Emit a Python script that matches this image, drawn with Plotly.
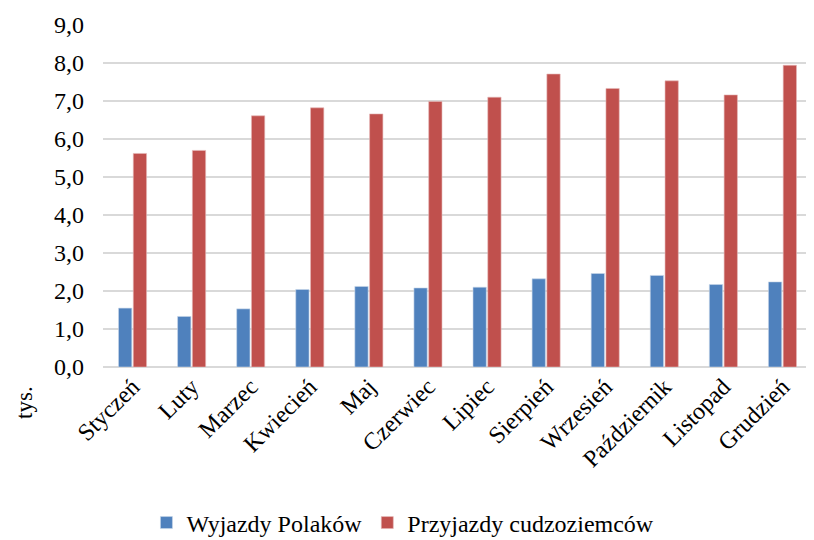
import plotly.graph_objects as go

months = ['Styczeń', 'Luty', 'Marzec', 'Kwiecień', 'Maj', 'Czerwiec', 'Lipiec',
          'Sierpień', 'Wrzesień', 'Październik', 'Listopad', 'Grudzień']
wyjazdy_polakow = [1.55, 1.33, 1.53, 2.04, 2.12, 2.08, 2.10, 2.32, 2.46, 2.41, 2.17, 2.24]
przyjazdy_cudzoziemcow = [5.62, 5.70, 6.61, 6.82, 6.66, 6.99, 7.10, 7.71, 7.33, 7.53, 7.16, 7.94]

font_family = 'Liberation Serif, Times New Roman, serif'

fig = go.Figure()

fig.add_trace(go.Bar(
    x=months,
    y=wyjazdy_polakow,
    name='Wyjazdy Polaków',
    marker=dict(color='#4F81BD', line=dict(color='#c9d6ea', width=0.6))
))
fig.add_trace(go.Bar(
    x=months,
    y=przyjazdy_cudzoziemcow,
    name='Przyjazdy cudzoziemców',
    marker=dict(color='#C0504D', line=dict(color='#e6b9b8', width=0.6))
))

# page body has an 8px margin, so the figure is 8px smaller and shifted
fig.update_layout(
    width=806, height=532,
    barmode='group',
    bargap=0.5,
    bargroupgap=0.1,
    separators=', ',
    plot_bgcolor='white',
    paper_bgcolor='white',
    font=dict(family=font_family, size=24, color='black'),
    margin=dict(l=95, r=2, t=17, b=173, autoexpand=False),
    legend=dict(
        orientation='h',
        xref='container', yref='container',
        x=0.49, xanchor='center',
        y=0.032, yanchor='middle',
        font=dict(size=24),
        itemwidth=30,
        traceorder='normal',
    ),
    annotations=[dict(
        text='tys.', xref='paper', yref='paper',
        x=-0.11, y=-0.105, showarrow=False, textangle=-90,
        font=dict(size=23), xanchor='center', yanchor='middle'
    )],
)

fig.update_yaxes(
    range=[0, 9],
    dtick=1,
    tickformat='.1f',
    showgrid=True,
    gridcolor='#d9d9d9',
    gridwidth=1.5,
    zeroline=True,
    zerolinecolor='#d9d9d9',
    zerolinewidth=1.5,
    ticklabelstandoff=18,
    tickfont=dict(size=24),
    automargin=False,
)
fig.update_xaxes(
    tickangle=-45,
    showline=False,
    tickfont=dict(size=24),
    automargin=False,
)

fig.write_html("out.html")
